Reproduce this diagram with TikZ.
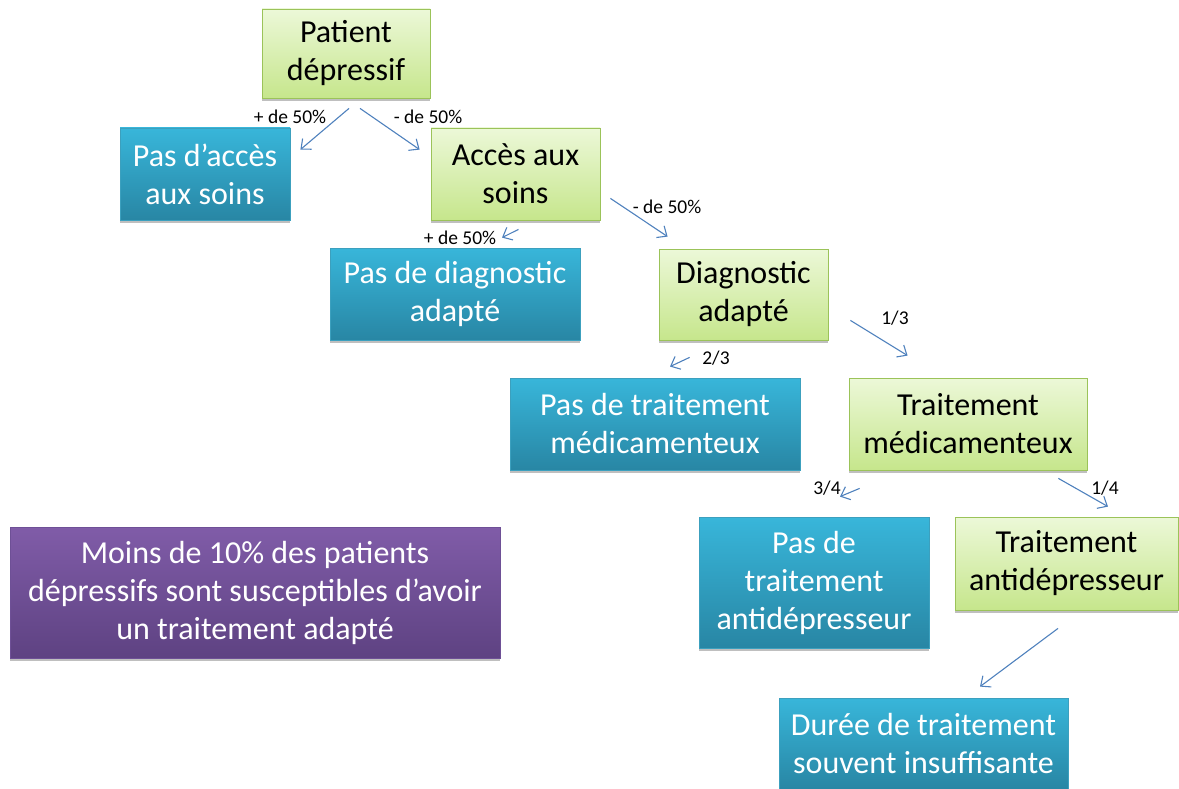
\documentclass[tikz,border=0pt]{standalone}
\usepackage{fontspec}
\setmainfont{Carlito}
\usetikzlibrary{arrows.meta,shadows}
\definecolor{greentop}{RGB}{236,248,216}
\definecolor{greenbot}{RGB}{198,230,140}
\definecolor{greenline}{RGB}{155,195,89}
\definecolor{bluetop}{RGB}{56,182,218}
\definecolor{bluebot}{RGB}{40,134,164}
\definecolor{blueline}{RGB}{60,160,190}
\definecolor{violettop}{RGB}{128,92,168}
\definecolor{violetbot}{RGB}{94,66,130}
\definecolor{violetline}{RGB}{110,80,150}
\definecolor{arrowblue}{RGB}{79,129,189}
\tikzset{
  box/.style={rectangle, align=center, inner sep=0pt, line width=0.8pt,
    font=\fontsize{32}{38}\selectfont, execute at begin node={\rule{0pt}{34pt}},
    drop shadow={shadow xshift=0pt, shadow yshift=-3pt, opacity=0.25, fill=black}},
  yesbox/.style={box, draw=greenline, top color=greentop, bottom color=greenbot, text=black},
  nobox/.style={box, draw=blueline, top color=bluetop, bottom color=bluebot, text=white},
  notebox/.style={box, draw=violetline, top color=violettop, bottom color=violetbot, text=white},
  link/.style={draw=arrowblue, line width=1.1pt, -{Straight Barb[length=8pt,width=14pt]}},
  share/.style={font=\fontsize{19.5}{22}\selectfont, inner sep=0pt}
}
\begin{document}
\begin{tikzpicture}[x=1pt,y=-1pt]
\useasboundingbox (0,0) rectangle (1179,789);
\node [yesbox, minimum width=168, minimum height=89] (patient) at (346,53.5) {Patient\\dépressif};
\node [nobox, minimum width=170, minimum height=92] (noaccess) at (205,174) {Pas d’accès\\aux soins};
\node [yesbox, minimum width=169, minimum height=92] (access) at (515.5,174) {Accès aux\\soins};
\node [nobox, minimum width=250, minimum height=92] (nodiag) at (455,294) {Pas de diagnostic\\adapté};
\node [yesbox, minimum width=169, minimum height=91] (diag) at (743.5,294.5) {Diagnostic\\adapté};
\node [nobox, minimum width=290, minimum height=92] (notreat) at (655,424) {Pas de traitement\\médicamenteux};
\node [yesbox, minimum width=238, minimum height=92] (treat) at (968,424) {Traitement\\médicamenteux};
\node [nobox, minimum width=230, minimum height=131] (noantidep) at (814,582.5) {Pas de\\traitement\\antidépresseur};
\node [yesbox, minimum width=223, minimum height=93] (antidep) at (1066.5,563.5) {Traitement\\antidépresseur};
\node [nobox, minimum width=289, minimum height=91] (duree) at (923.5,743.5) {Durée de traitement\\souvent insuffisante};
\node [notebox, minimum width=490, minimum height=131] (summary) at (255,592.5) {Moins de 10\% des patients\\dépressifs sont susceptibles d’avoir\\un traitement adapté};
\draw [link] ([shift={(3,10)}]patient.south) -- ([shift={(10,22)}]noaccess.north east);
\draw [link] ([shift={(14,10)}]patient.south) -- ([shift={(-11,22)}]access.north west);
\draw [link] ([shift={(3,9)}]access.south) -- ([shift={(47,-10)}]nodiag.north);
\draw [link] ([shift={(10,-22)}]access.south east) -- ([shift={(9,-12)}]diag.north west);
\draw [link] ([shift={(22,-20)}]diag.south east) -- ([shift={(59,-22)}]treat.north west);
\draw [link] ([shift={(31,17)}]diag.south west) -- ([shift={(15,-11)}]notreat.north);
\draw [link] ([shift={(11,18)}]treat.south west) -- ([shift={(26,-20)}]noantidep.north);
\draw [link] ([shift={(-29,8)}]treat.south east) -- ([shift={(41.5,-10)}]antidep.north);
\draw [link] ([shift={(-8.5,18)}]antidep.south) -- ([shift={(56.5,-11)}]duree.north);
\node [share] (p1) at (290,117) {+ de 50\%};
\node [share] (p2) at (428,117) {- de 50\%};
\node [share] (p3) at (460,238) {+ de 50\%};
\node [share] (p4) at (667,207) {- de 50\%};
\node [share] (p5) at (895,318) {1/3};
\node [share] (p6) at (716,358) {2/3};
\node [share] (p7) at (827,488) {3/4};
\node [share] (p8) at (1105,488) {1/4};
\end{tikzpicture}
\end{document}
